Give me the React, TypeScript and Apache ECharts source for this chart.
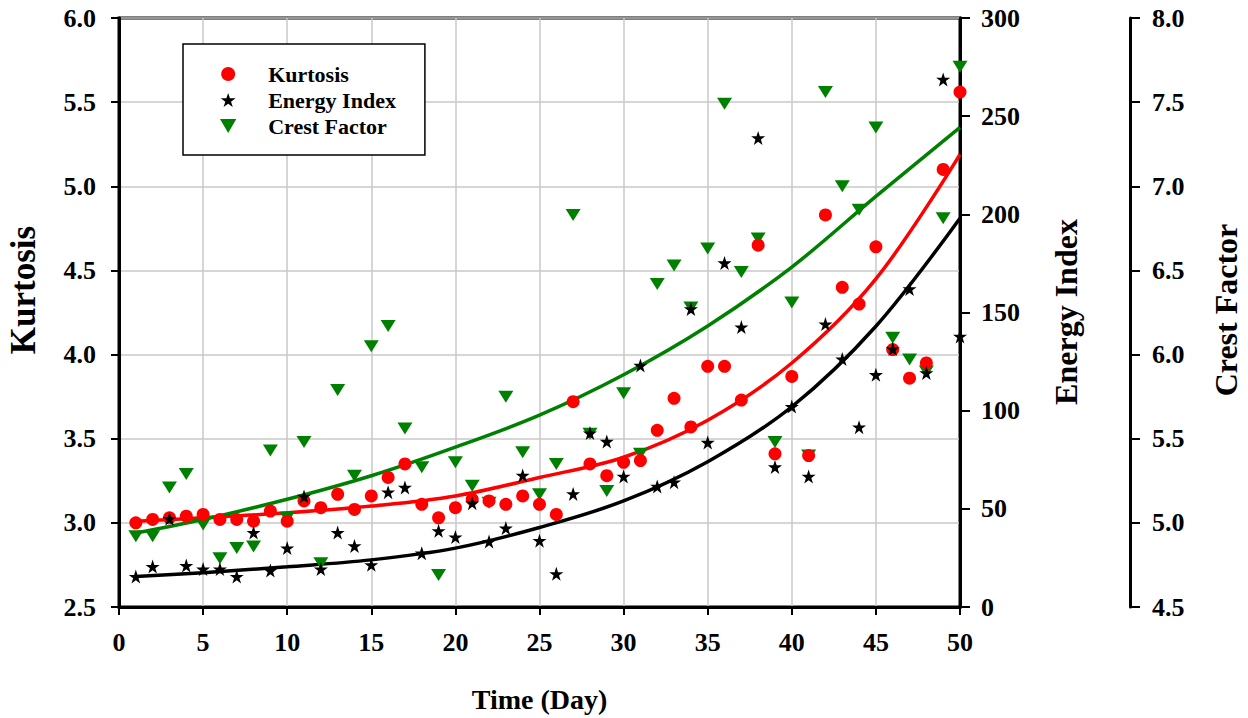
import React, { useEffect, useRef } from "react";
import * as echarts from "echarts";

const FONT = "'Liberation Serif', 'Times New Roman', serif";

const days = [
  1, 2, 3, 4, 5, 6, 7, 8, 9, 10, 11, 12, 13, 14, 15, 16, 17, 18, 19, 20, 21, 22, 23, 24, 25,
  26, 27, 28, 29, 30, 31, 32, 33, 34, 35, 36, 37, 38, 39, 40, 41, 42, 43, 44, 45, 46, 47, 48, 49, 50,
];

const kurtosis = [
  3.0, 3.02, 3.03, 3.04, 3.05, 3.02, 3.02, 3.01, 3.07, 3.01, 3.13, 3.09, 3.17, 3.08, 3.16, 3.27,
  3.35, 3.11, 3.03, 3.09, 3.14, 3.13, 3.11, 3.16, 3.11, 3.05, 3.72, 3.35, 3.28, 3.36, 3.37, 3.55,
  3.74, 3.57, 3.93, 3.93, 3.73, 4.65, 3.41, 3.87, 3.4, 4.83, 4.4, 4.3, 4.64, 4.03, 3.86, 3.95,
  5.1, 5.56,
];

const energyIndex = [
  15.5, 20.6, 45, 21.1, 19.3, 19.3, 15.5, 37.9, 18.6, 30.0, 56.3, 19.3, 37.9, 31.1, 21.5, 58.5,
  60.9, 27.4, 38.8, 35.6, 52.9, 33.3, 40.2, 67.0, 33.8, 16.9, 57.6, 88.6, 84.3, 66.5, 123.0, 61.4,
  63.6, 151.8, 83.8, 175.2, 142.6, 238.9, 71.3, 102.1, 66.5, 144.1, 126.3, 91.6, 118.3, 131.4,
  162.0, 119.2, 268.7, 137.8,
];

const crestFactor = [
  4.92, 4.92, 5.21, 5.29, 4.99, 4.79, 4.85, 4.86, 5.43, 5.03, 5.48, 4.76, 5.79, 5.28, 6.05, 6.17,
  5.56, 5.33, 4.69, 5.36, 5.22, 5.12, 5.75, 5.42, 5.17, 5.35, 6.83, 5.53, 5.19, 5.77, 5.41, 6.42,
  6.53, 6.28, 6.63, 7.49, 6.49, 6.69, 5.48, 6.31, 5.4, 7.56, 7.0, 6.86, 7.35, 6.1, 5.97, 5.9,
  6.81, 7.71,
];

// Trend curves
const fitDays = [1, 5, 10, 15, 20, 25, 30, 35, 40, 45, 50];
const kurtosisFit = [3.01, 3.03, 3.06, 3.1, 3.16, 3.27, 3.39, 3.61, 3.95, 4.45, 5.19];
const energyFit = [15.5, 17.5, 20.5, 24, 30, 40.5, 54, 74, 102, 143, 198];
const crestFit = [4.94, 5.02, 5.14, 5.28, 5.45, 5.64, 5.88, 6.17, 6.52, 6.94, 7.35];

const xTicks = { min: 0, max: 50, interval: 5 };
const kurtTicks = { min: 2.5, max: 6.0, interval: 0.5 };
const energyTicks = { min: 0, max: 300, interval: 50 };
const crestTicks = { min: 4.5, max: 8.0, interval: 0.5 };

const RED = "#ff0000";
const BLACK = "#000000";
const GREEN = "#008000";
const STAR =
  "path://M50,0 L61.8,35.4 L99,35.4 L68.9,57.3 L80.4,92.7 L50,70.8 L19.6,92.7 L31.1,57.3 L1,35.4 L38.2,35.4 Z";
const DOWN_TRIANGLE = "path://M0,0 L14,0 L7,12 Z";

const pairs = (xs: number[], ys: number[]) => xs.map((x, i) => [x, ys[i]]);

export default function App() {
  const ref = useRef<HTMLDivElement>(null);
  useEffect(() => {
    if (!ref.current) return;
    const chart = echarts.init(ref.current, undefined, { renderer: "svg" });
    const labelStyle = {
      fontFamily: FONT,
      fontWeight: "bold" as const,
      fontSize: 26,
      color: "#000",
    };
    const option: any = {
      animation: false,
      backgroundColor: "#ffffff",
      textStyle: { fontFamily: FONT },
      grid: {
        left: 119,
        right: 288,
        top: 18,
        bottom: 111,
        show: true,
        borderColor: "#000",
        borderWidth: 3,
        backgroundColor: "transparent",
      },
      legend: {
        left: 183,
        top: 44,
        orient: "vertical",
        padding: [19, 29, 18, 37],
        itemWidth: 70,
        itemHeight: 14,
        itemGap: 4,
        symbolKeepAspect: true,
        borderColor: "#000",
        borderWidth: 1.5,
        backgroundColor: "#ffffff",
        textStyle: { fontFamily: FONT, fontWeight: "bold", fontSize: 22, color: "#000" },
        data: [
          { name: "Kurtosis", icon: "circle" },
          { name: "Energy Index", icon: STAR },
          { name: "Crest Factor", icon: DOWN_TRIANGLE },
        ],
      },
      xAxis: {
        type: "value",
        ...xTicks,
        name: "Time (Day)",
        nameLocation: "middle",
        nameGap: 78,
        nameTextStyle: { fontFamily: FONT, fontWeight: "bold", fontSize: 28, color: "#000" },
        axisLine: { show: true, lineStyle: { color: "#000", width: 3 } },
        axisTick: { show: true, length: 8, lineStyle: { color: "#000", width: 2 } },
        axisLabel: { ...labelStyle, margin: 22 },
        splitLine: { show: true, lineStyle: { color: "#c8c8c8", width: 1.5 } },
      },
      yAxis: [
        {
          type: "value",
          position: "left",
          ...kurtTicks,
          axisLine: { show: true, lineStyle: { color: "#000", width: 3 } },
          axisTick: { show: true, length: 8, lineStyle: { color: "#000", width: 2 } },
          axisLabel: { ...labelStyle, margin: 23, formatter: (v: number) => v.toFixed(1) },
          splitLine: { show: true, lineStyle: { color: "#c8c8c8", width: 1.5 } },
        },
        {
          type: "value",
          position: "right",
          offset: 0,
          ...energyTicks,
          axisLine: { show: true, lineStyle: { color: "#000", width: 3 } },
          axisTick: { show: true, length: 10, lineStyle: { color: "#000", width: 2 } },
          axisLabel: { ...labelStyle, margin: 21 },
          splitLine: { show: false },
        },
        {
          type: "value",
          position: "right",
          offset: 170,
          ...crestTicks,
          axisLine: { show: true, lineStyle: { color: "#000", width: 3 } },
          axisTick: { show: true, length: 10, lineStyle: { color: "#000", width: 2 } },
          axisLabel: { ...labelStyle, margin: 22, formatter: (v: number) => v.toFixed(1) },
          splitLine: { show: false },
        },
      ],
      graphic: [
        {
          type: "text",
          x: 23,
          y: 290,
          rotation: Math.PI / 2,
          style: {
            text: "Kurtosis",
            fontFamily: FONT,
            fontWeight: "bold",
            fontSize: 35,
            fill: "#000",
            align: "center",
            verticalAlign: "middle",
          },
        },
        {
          type: "text",
          x: 1066,
          y: 312,
          rotation: Math.PI / 2,
          style: {
            text: "Energy Index",
            fontFamily: FONT,
            fontWeight: "bold",
            fontSize: 32,
            fill: "#000",
            align: "center",
            verticalAlign: "middle",
          },
        },
        {
          type: "text",
          x: 1226,
          y: 310,
          rotation: Math.PI / 2,
          style: {
            text: "Crest Factor",
            fontFamily: FONT,
            fontWeight: "bold",
            fontSize: 32,
            fill: "#000",
            align: "center",
            verticalAlign: "middle",
          },
        },
      ],
      series: [
        {
          name: "Kurtosis fit",
          type: "line",
          yAxisIndex: 0,
          data: pairs(fitDays, kurtosisFit),
          smooth: 0.35,
          showSymbol: false,
          lineStyle: { color: RED, width: 3.5 },
          itemStyle: { color: RED },
          z: 2,
        },
        {
          name: "Energy Index fit",
          type: "line",
          yAxisIndex: 1,
          data: pairs(fitDays, energyFit),
          smooth: 0.35,
          showSymbol: false,
          lineStyle: { color: BLACK, width: 3.5 },
          itemStyle: { color: BLACK },
          z: 2,
        },
        {
          name: "Crest Factor fit",
          type: "line",
          yAxisIndex: 2,
          data: pairs(fitDays, crestFit),
          smooth: 0.35,
          showSymbol: false,
          lineStyle: { color: GREEN, width: 3.5 },
          itemStyle: { color: GREEN },
          z: 2,
        },
        {
          name: "Crest Factor",
          type: "scatter",
          yAxisIndex: 2,
          data: pairs(days, crestFactor),
          symbol: "triangle",
          symbolRotate: 180,
          symbolSize: [15, 12],
          itemStyle: { color: GREEN, opacity: 1 },
          z: 3,
        },
        {
          name: "Kurtosis",
          type: "scatter",
          yAxisIndex: 0,
          data: pairs(days, kurtosis),
          symbol: "circle",
          symbolSize: 13,
          itemStyle: { color: RED, opacity: 1 },
          z: 4,
        },
        {
          name: "Energy Index",
          type: "scatter",
          yAxisIndex: 1,
          data: pairs(days, energyIndex),
          symbol: STAR,
          symbolSize: 14,
          itemStyle: { color: BLACK, opacity: 1 },
          z: 5,
        },
      ],
    };
    chart.setOption(option);
    return () => chart.dispose();
  }, []);
  return (
    <div
      ref={ref}
      style={{ position: "absolute", left: 0, top: 0, width: 1248, height: 718, background: "#fff" }}
    />
  );
}
